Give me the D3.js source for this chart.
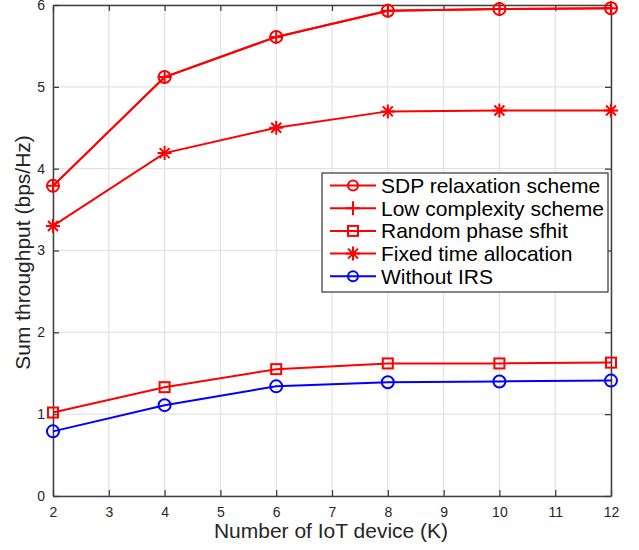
<!DOCTYPE html>
<html><head><meta charset="utf-8">
<script src="https://cdn.jsdelivr.net/npm/d3@7"></script>
<style>body{margin:0;background:#fff;} svg{display:block;}</style>
</head><body>
<svg id="chart" width="639" height="550"></svg>
<script>
const xValues = [2, 4, 6, 8, 10, 12];
const sdpValues = [3.79, 5.12, 5.61, 5.93, 5.95, 5.96];
const lowValues = [3.79, 5.12, 5.61, 5.93, 5.95, 5.96];
const randomValues = [1.02, 1.33, 1.55, 1.62, 1.62, 1.63];
const fixedValues = [3.30, 4.19, 4.50, 4.70, 4.71, 4.71];
const noIrsValues = [0.79, 1.11, 1.34, 1.39, 1.40, 1.41];
const xTicks = [2, 3, 4, 5, 6, 7, 8, 9, 10, 11, 12];
const yTicks = [0, 1, 2, 3, 4, 5, 6];
const seriesNames = ["SDP relaxation scheme", "Low complexity scheme", "Random phase sfhit", "Fixed time allocation", "Without IRS"];

const series = [
  {name: seriesNames[0], values: sdpValues, color: "#ff0000", marker: "circle"},
  {name: seriesNames[1], values: lowValues, color: "#ff0000", marker: "plus"},
  {name: seriesNames[2], values: randomValues, color: "#ff0000", marker: "square"},
  {name: seriesNames[3], values: fixedValues, color: "#ff0000", marker: "star"},
  {name: seriesNames[4], values: noIrsValues, color: "#0000ff", marker: "circle"}
];

const FONT = "Helvetica, Arial, 'Liberation Sans', sans-serif";
const svg = d3.select("#chart");
const L = 53, R = 611, T = 5, B = 496;
const x = d3.scaleLinear().domain([2, 12]).range([L, R]);
const y = d3.scaleLinear().domain([0, 6]).range([B, T]);
const axisColor = "#404040";

// grid
const g = svg.append("g");
g.selectAll(".gx").data(xTicks).enter().append("line")
  .attr("x1", d => x(d)).attr("x2", d => x(d)).attr("y1", T).attr("y2", B)
  .attr("stroke", "#e3e3e3").attr("stroke-width", 1.2);
g.selectAll(".gy").data(yTicks).enter().append("line")
  .attr("x1", L).attr("x2", R).attr("y1", d => y(d)).attr("y2", d => y(d))
  .attr("stroke", "#e3e3e3").attr("stroke-width", 1.2);

// axes
const tickStyle = sel => {
  sel.select(".domain").attr("stroke", axisColor).attr("stroke-width", 1.5);
  sel.selectAll(".tick line").attr("stroke", axisColor).attr("stroke-width", 1.3);
  sel.selectAll(".tick text").attr("fill", "#262626").attr("font-family", FONT).attr("font-size", 14);
};
const fmt = d3.format("d");
svg.append("g").attr("transform", `translate(0,${B})`)
  .call(d3.axisBottom(x).tickValues(xTicks).tickFormat(fmt).tickSizeInner(-6).tickSizeOuter(0).tickPadding(11))
  .call(tickStyle);
svg.append("g").attr("transform", `translate(0,${T})`)
  .call(d3.axisTop(x).tickValues(xTicks).tickSizeInner(-6).tickSizeOuter(0).tickFormat(""))
  .call(tickStyle);
svg.append("g").attr("transform", `translate(${L},0)`)
  .call(d3.axisLeft(y).tickValues(yTicks).tickFormat(fmt).tickSizeInner(-6).tickSizeOuter(0).tickPadding(8))
  .call(tickStyle);
svg.append("g").attr("transform", `translate(${R},0)`)
  .call(d3.axisRight(y).tickValues(yTicks).tickSizeInner(-6).tickSizeOuter(0).tickFormat(""))
  .call(tickStyle);

// marker drawing
function drawMarker(sel, type, color, r) {
  if (type === "circle") {
    sel.append("circle").attr("r", r).attr("fill", "none").attr("stroke", color).attr("stroke-width", 2);
  } else if (type === "plus") {
    sel.append("path").attr("d", "M-7,0H7M0,-7V7").attr("stroke", color).attr("stroke-width", 2).attr("fill", "none");
  } else if (type === "square") {
    sel.append("rect").attr("x", -5).attr("y", -5).attr("width", 10).attr("height", 10)
      .attr("fill", "none").attr("stroke", color).attr("stroke-width", 2);
  } else if (type === "star") {
    sel.append("path").attr("d", "M-7,0H7M0,-7V7M-5,-5L5,5M-5,5L5,-5").attr("stroke", color).attr("stroke-width", 2).attr("fill", "none");
  }
}

const line = d3.line().x((d, i) => x(xValues[i])).y(d => y(d));
series.forEach(s => {
  svg.append("path").datum(s.values).attr("d", line)
    .attr("fill", "none").attr("stroke", s.color).attr("stroke-width", 2);
  s.values.forEach((v, i) => {
    const m = svg.append("g").attr("transform", `translate(${x(xValues[i])},${y(v)})`);
    drawMarker(m, s.marker, s.color, 6);
  });
});

// labels
svg.append("text").attr("x", (L + R) / 2 - 1).attr("y", 538).attr("text-anchor", "middle")
  .attr("font-family", FONT).attr("font-size", 21).attr("fill", "#262626")
  .text("Number of IoT device (K)");
svg.append("text").attr("transform", `translate(30,${(T + B) / 2 + 2}) rotate(-90)`).attr("text-anchor", "middle")
  .attr("font-family", FONT).attr("font-size", 21).attr("fill", "#262626")
  .text("Sum throughput (bps/Hz)");

// legend
const lg = svg.append("g");
lg.append("rect").attr("x", 322).attr("y", 173).attr("width", 286).attr("height", 119)
  .attr("fill", "#fff").attr("stroke", "#333").attr("stroke-width", 1.2);
series.forEach((s, i) => {
  const cy = 185.5 + i * 22.7;
  lg.append("line").attr("x1", 330).attr("x2", 376).attr("y1", cy).attr("y2", cy)
    .attr("stroke", s.color).attr("stroke-width", 2);
  const m = lg.append("g").attr("transform", `translate(353,${cy})`);
  drawMarker(m, s.marker, s.color, 5);
  lg.append("text").attr("x", 381).attr("y", cy + 7.5)
    .attr("font-family", FONT).attr("font-size", 21).attr("fill", "#000")
    .text(s.name);
});
</script>
</body></html>
